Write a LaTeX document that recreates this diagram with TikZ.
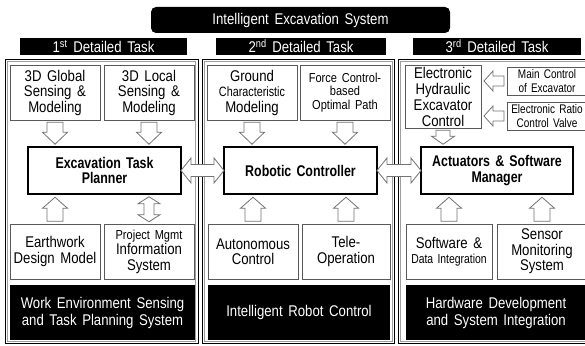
\documentclass[tikz,border=0pt]{standalone}
\usepackage{fontspec}
\setmainfont{Liberation Sans}[FakeStretch=0.85, WordSpace=1.55]
\newfontfamily\narrowfont{Liberation Sans}[FakeStretch=0.8, WordSpace=1.4]
\newfontfamily\heavyfont{Liberation Sans}[FakeStretch=0.8, WordSpace=1.5]
\usetikzlibrary{calc}

\definecolor{cellline}{gray}{0.35}
\definecolor{arrowline}{gray}{0.45}
\definecolor{frameinner}{gray}{0.62}

\newcommand{\regsize}{\fontsize{15.5}{15.5}\selectfont}
\newcommand{\smlsize}{\fontsize{13}{13.5}\selectfont}

\tikzset{
  cell/.style={draw=cellline, line width=0.8pt, fill=white, align=center,
    inner sep=1pt, minimum width=90, minimum height=55, font=\regsize},
  core/.style={draw=black, line width=1.8pt, fill=white, align=center,
    inner sep=1pt, minimum width=153, minimum height=47,
    font=\heavyfont\bfseries\regsize},
  darkbox/.style={fill=black, text=white, align=center, inner sep=1pt,
    minimum height=55, font=\fontsize{15.5}{17}\selectfont},
  header/.style={fill=black, text=white, inner sep=0pt, minimum width=168,
    minimum height=17, font=\regsize},
  outerframe/.style={draw=black, line width=0.9pt},
  innerframe/.style={draw=frameinner, line width=0.7pt},
  blkpath/.style={draw=arrowline, fill=white, line width=0.8pt, line join=miter},
  pics/blkarrow/.style n args={4}{code={
    \path[blkpath] ({-#1/2},{-#2/2}) -- ({#1/2-#4},{-#2/2}) -- ({#1/2-#4},{-#3/2})
      -- ({#1/2},0) -- ({#1/2-#4},{#3/2}) -- ({#1/2-#4},{#2/2})
      -- ({-#1/2},{#2/2}) -- cycle;
  }},
  pics/blkdouble/.style n args={4}{code={
    \path[blkpath] ({-#1/2},0) -- ({-#1/2+#4},{-#3/2}) -- ({-#1/2+#4},{-#2/2})
      -- ({#1/2-#4},{-#2/2}) -- ({#1/2-#4},{-#3/2}) -- ({#1/2},0)
      -- ({#1/2-#4},{#3/2}) -- ({#1/2-#4},{#2/2}) -- ({-#1/2+#4},{#2/2})
      -- ({-#1/2+#4},{#3/2}) -- cycle;
  }},
}

\begin{document}
\begin{tikzpicture}[x=1pt, y=-1pt]
\clip (0,0) rectangle (585,345);
\fill[white] (0,0) rectangle (585,345);

% title bar
\node[fill=black, text=white, rounded corners=5pt, minimum width=299,
  minimum height=26, inner sep=0pt, font=\regsize] (title) at (300.5,20)
  {Intelligent Excavation System};

% panel frames (black outer line, grey inner line)
\draw[outerframe] (5,59) rectangle (198,343.5);
\draw[innerframe] (7.5,61.5) rectangle (195.5,341);
\draw[outerframe] (202,59) rectangle (394.5,343.5);
\draw[innerframe] (204.5,61.5) rectangle (392,341);
\draw[outerframe] (398,59) rectangle (600,343.5);
\draw[innerframe] (400.5,61.5) rectangle (600,341);

% panel headers
\node[header, minimum width=167] (h1) at (103.5,46.5) {1\textsuperscript{st} Detailed Task};
\node[header, minimum width=170] (h2) at (301,46.5) {2\textsuperscript{nd} Detailed Task};
\node[header] (h3) at (497,46.5) {3\textsuperscript{rd} Detailed Task};

% first task
\node[cell] (g1) at (55,92.5) {3D Global\\Sensing \&\\Modeling};
\node[cell] (l1) at (149,92.5) {3D Local\\Sensing \&\\Modeling};
\node[core] (planner) at (104.5,170.5) {Excavation Task\\Planner};
\node[cell] (ew) at (55,251.5) {Earthwork\\Design Model};
\node[cell] (pm) at (149,251.5) {{\smlsize Project Mgmt}\\Information\\System};
\node[darkbox, minimum width=185] (ws) at (102.5,312.5)
  {Work Environment Sensing\\and Task Planning System};

% second task
\node[cell] (gc) at (252,92.5) {Ground\\{\narrowfont\fontsize{13.5}{15.5}\selectfont Characteristic}\\Modeling};
\node[cell, font=\smlsize] (fc) at (345,92.5) {Force Control-\\based\\Optimal Path};
\node[core] (rc) at (300.5,170.5) {Robotic Controller};
\node[cell] (ac) at (253,251.5) {Autonomous\\Control};
\node[cell, minimum width=88] (to) at (346,251.5) {Tele-\\Operation};
\node[darkbox, minimum width=182] (irc) at (299,312.5) {Intelligent Robot Control};

% third task
\node[cell, minimum width=76, minimum height=63, font=\fontsize{15.5}{16}\selectfont]
  (eh) at (443,96.5) {Electronic\\Hydraulic\\Excavator\\Control};
\node[cell, minimum width=80, minimum height=28, font=\narrowfont\fontsize{12.5}{13.5}\selectfont]
  (mc) at (547,81) {Main Control\\of Excavator};
\node[cell, minimum width=80, minimum height=28, font=\narrowfont\fontsize{12.5}{13.5}\selectfont]
  (er) at (547,116) {Electronic Ratio\\Control Valve};
\node[core, minimum width=152] (am) at (497,170.5) {Actuators \& Software\\Manager};
\node[cell, minimum width=86] (sd) at (449,251.5)
  {Software \&\\{\narrowfont\fontsize{13}{15.5}\selectfont Data Integration}};
\node[cell] (sm) at (542,251.5) {Sensor\\Monitoring\\System};
\node[darkbox, minimum width=180] (hd) at (496,312.5)
  {Hardware Development\\and System Integration};

% block arrows into the core boxes
\foreach \src/\dst in {g1/planner, l1/planner, gc/rc, fc/rc}
  \pic[rotate=-90] at ($(\src.south)!0.5!(\src.south |- \dst.north)$)
    {blkarrow={22}{16}{25}{12}};
\pic[rotate=-90] at ($(eh.south)!0.5!(eh.south |- am.north)$)
  {blkarrow={14}{14}{23}{8}};
\foreach \src/\dst in {ew/planner, ac/rc, to/rc, sd/am, sm/am}
  \pic[rotate=90] at ($(\src.north)!0.5!(\src.north |- \dst.south)$)
    {blkarrow={24}{16}{25}{11}};
\pic[rotate=90] at ($(pm.north)!0.5!(pm.north |- planner.south)$)
  {blkdouble={25}{10}{22}{7}};
\foreach \src in {mc, er}
  \pic[rotate=180] at ($(\src.west)!0.5!(eh.east |- \src.west)$)
    {blkarrow={20}{10}{20}{9}};

% links between the core boxes
\pic at ($(planner.east)!0.5!(rc.west)$) {blkdouble={43}{12}{25}{10}};
\pic at ($(rc.east)!0.5!(am.west)$) {blkdouble={44}{12}{25}{10}};
\end{tikzpicture}
\end{document}
